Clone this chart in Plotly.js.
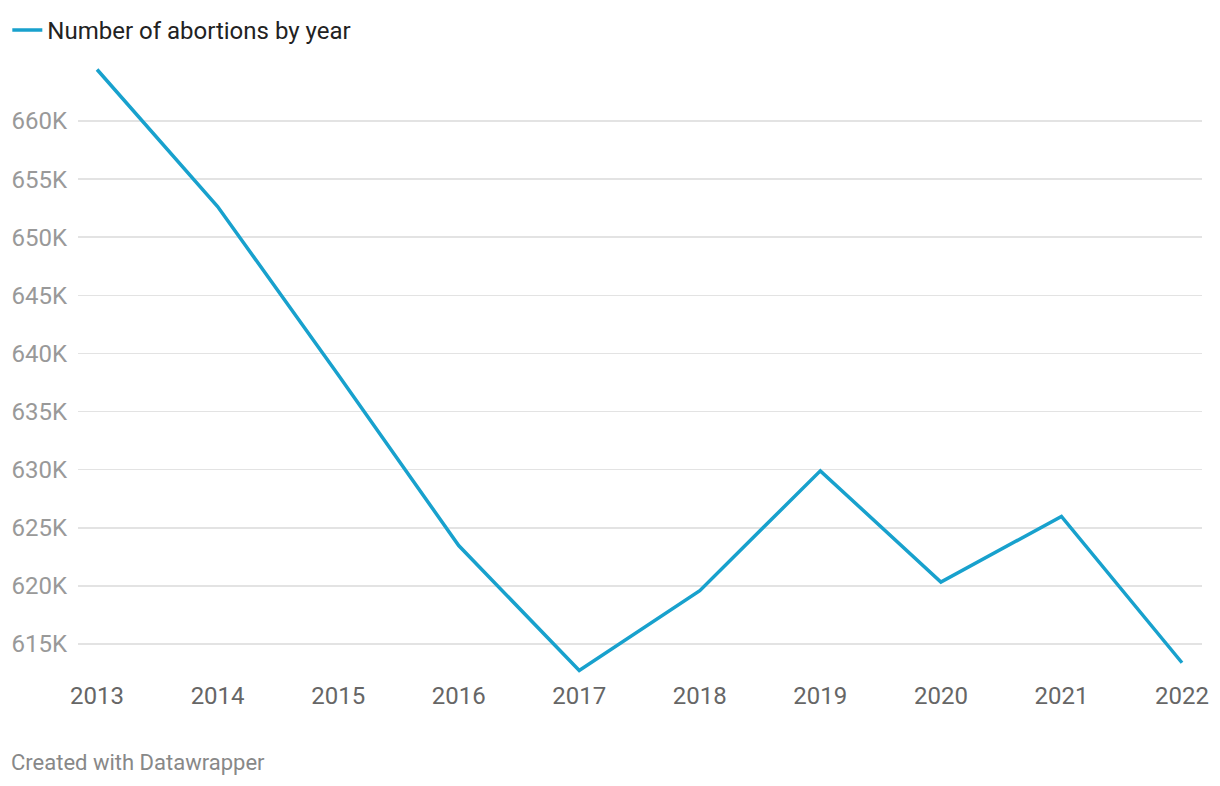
<!DOCTYPE html>
<html>
<head>
<meta charset="utf-8">
<script src="https://cdn.plot.ly/plotly-3.0.1.min.js"></script>
<style>
html,body{margin:0;padding:0;background:#fff;}
#chart{width:1220px;height:786px;}
</style>
</head>
<body>
<div id="chart"></div>
<script>
const years = [2013, 2014, 2015, 2016, 2017, 2018, 2019, 2020, 2021, 2022];
const abortions = [664435, 652639, 638169, 623471, 612719, 619591, 629898, 620327, 625978, 613383];
const seriesName = "Number of abortions by year";
const yTicks = [615000, 620000, 625000, 630000, 635000, 640000, 645000, 650000, 655000, 660000];
const yTickLabels = ["615K", "620K", "625K", "630K", "635K", "640K", "645K", "650K", "655K", "660K"];
const footer = "Created with Datawrapper";

const trace = {
  x: years,
  y: abortions,
  type: "scatter",
  mode: "lines",
  name: seriesName,
  line: {color: "#18a1cd", width: 3.5},
  hoverinfo: "x+y"
};

const layout = {
  width: 1220,
  height: 786,
  paper_bgcolor: "#ffffff",
  plot_bgcolor: "#ffffff",
  font: {family: "Roboto, sans-serif", size: 24, color: "#333"},
  margin: {l: 78, r: 18, t: 60, b: 111, pad: 0},
  showlegend: true,
  legend: {
    orientation: "h",
    xref: "container",
    yref: "container",
    x: 0.006,
    y: 0.99,
    xanchor: "left",
    yanchor: "top",
    font: {size: 24, color: "#222"},
    itemwidth: 30,
    bgcolor: "rgba(0,0,0,0)"
  },
  xaxis: {
    range: [2012.842, 2022.166],
    tickvals: years,
    ticktext: years.map(String),
    showgrid: false,
    zeroline: false,
    showline: false,
    ticks: "",
    tickfont: {size: 24, color: "#666"},
    ticklabelstandoff: 4,
    fixedrange: true
  },
  yaxis: {
    range: [612330, 665250],
    tickvals: yTicks,
    ticktext: yTickLabels,
    showgrid: true,
    gridcolor: "#e3e3e3",
    gridwidth: 1.5,
    zeroline: false,
    showline: false,
    ticks: "",
    tickfont: {size: 24, color: "#999"},
    ticklabelstandoff: 10,
    fixedrange: true
  },
  annotations: [{
    text: footer,
    xref: "paper",
    yref: "paper",
    x: -0.0614,
    y: -0.143,
    xanchor: "left",
    yanchor: "middle",
    showarrow: false,
    font: {size: 22, color: "#888"}
  }]
};

Plotly.newPlot("chart", [trace], layout, {displayModeBar: false, staticPlot: true});
</script>
</body>
</html>
